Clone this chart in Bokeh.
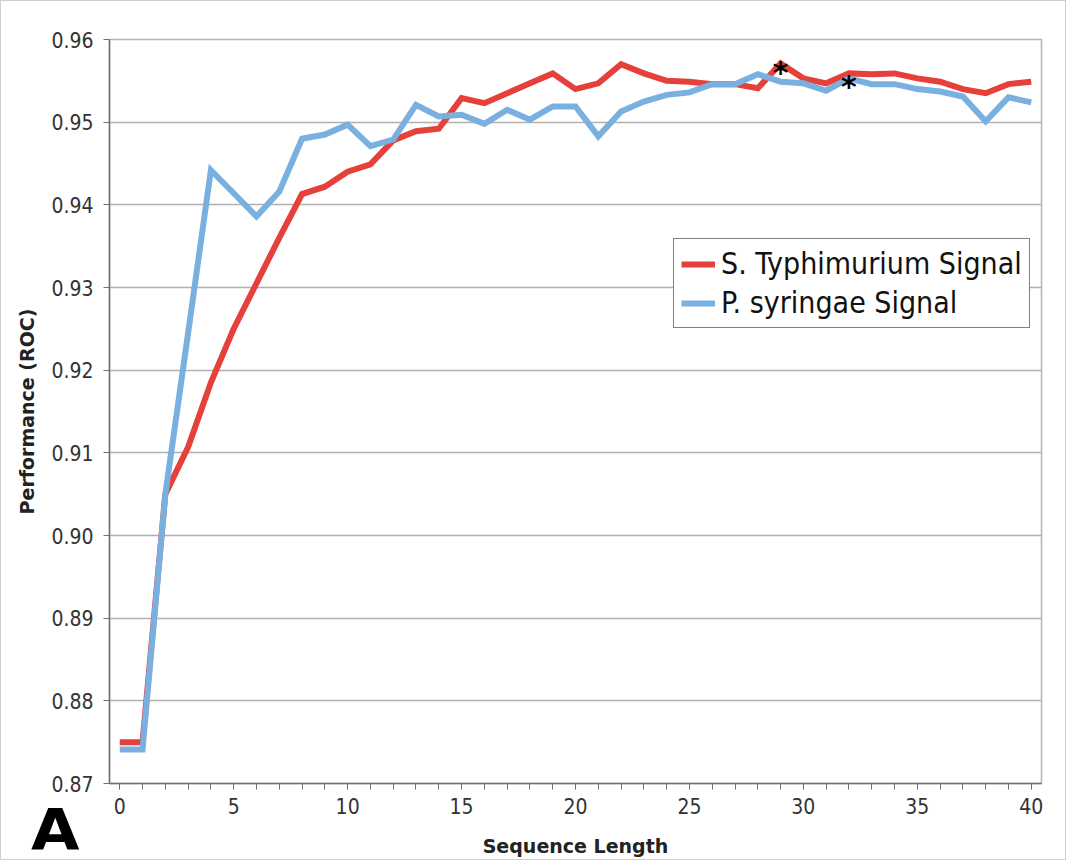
from bokeh.plotting import figure
from bokeh.models import Range1d, FixedTicker, Legend, LegendItem, Div
from bokeh.layouts import column
from bokeh.core.properties import value
from bokeh.embed import file_html
from bokeh.resources import INLINE

seq_len = list(range(41))
typhimurium = [0.875, 0.875, 0.905, 0.9107, 0.9185, 0.925, 0.9305, 0.936, 0.9413, 0.9422,
               0.944, 0.9449, 0.9478, 0.9489, 0.9492, 0.9529, 0.9523, 0.9535, 0.9547, 0.9559,
               0.954, 0.9547, 0.957, 0.9559, 0.955, 0.9549, 0.9546, 0.9546, 0.9541, 0.9571,
               0.9553, 0.9547, 0.9559, 0.9558, 0.9559, 0.9553, 0.9549, 0.954, 0.9535, 0.9546,
               0.9549]
syringae = [0.8741, 0.8741, 0.905, 0.9245, 0.9442, 0.9414, 0.9386, 0.9416, 0.948, 0.9485,
            0.9497, 0.9471, 0.9479, 0.9521, 0.9507, 0.9509, 0.9498, 0.9515, 0.9503, 0.9519,
            0.9519, 0.9483, 0.9513, 0.9525, 0.9533, 0.9536, 0.9546, 0.9546, 0.9558, 0.9549,
            0.9547, 0.9538, 0.9553, 0.9546, 0.9546, 0.954, 0.9537, 0.9531, 0.9501, 0.953,
            0.9524]
star_x = [29, 32]
star_y = [0.957, 0.9553]
x_ticks = [0, 5, 10, 15, 20, 25, 30, 35, 40]
y_ticks = [0.87, 0.88, 0.89, 0.90, 0.91, 0.92, 0.93, 0.94, 0.95, 0.96]
panel_letter = "A"

FONT = "DejaVu Sans"
FONT_C = "DejaVu Sans Condensed"

p = figure(width=1066, height=860, output_backend="svg", toolbar_location=None,
           x_range=Range1d(-0.45, 40.45), y_range=Range1d(0.87, 0.96),
           min_border_left=108, min_border_right=26, min_border_top=38, min_border_bottom=78)
p.styles = {"border": "1px solid #cfcfcf"}
p.outline_line_color = "#b5b5b5"
p.outline_line_width = 1.5
p.background_fill_color = "white"

p.xgrid.visible = False
p.ygrid.grid_line_color = "#b0b0b0"
p.ygrid.grid_line_width = 1.5

p.xaxis.ticker = FixedTicker(ticks=x_ticks, minor_ticks=seq_len)
p.yaxis.ticker = FixedTicker(ticks=y_ticks)
p.yaxis.major_label_overrides = {v: f"{v:.2f}" for v in y_ticks}

for ax in (p.xaxis[0], p.yaxis[0]):
    ax.axis_line_color = "#707070"
    ax.axis_line_width = 1.5
    ax.major_tick_line_color = "#707070"
    ax.minor_tick_line_color = "#707070"
    ax.major_tick_in = 0
    ax.minor_tick_in = 0
    ax.major_tick_out = 6
    ax.minor_tick_out = 6
    ax.major_label_text_font = FONT_C
    ax.major_label_text_font_size = "21px"
    ax.major_label_text_color = "#333333"
    ax.axis_label_text_font = FONT
    ax.axis_label_text_font_style = "bold"
    ax.axis_label_text_font_size = "19px"
    ax.axis_label_text_color = "#222222"
p.yaxis.minor_tick_out = 0
p.xaxis.major_label_standoff = 8
p.yaxis.major_label_standoff = 10
p.xaxis.axis_label = "Sequence Length"
p.yaxis.axis_label = "Performance (ROC)"
p.xaxis.axis_label_standoff = 18
p.yaxis.axis_label_standoff = 10

r1 = p.line(seq_len, typhimurium, line_color="#e5403a", line_width=6, line_join="miter")
r2 = p.line(seq_len, syringae, line_color="#7ab0e0", line_width=6, line_join="miter")

p.text(star_x, star_y, text=["*", "*"], text_font=value(FONT), text_font_style="bold",
       text_font_size="30px", text_align="center", text_baseline="middle",
       y_offset=8, text_color="black")

legend = Legend(items=[LegendItem(label="S. Typhimurium Signal", renderers=[r1]),
                       LegendItem(label="P. syringae Signal", renderers=[r2])],
                location=(564, 455), orientation="vertical",
                label_text_font=FONT_C, label_text_font_size="30px", label_text_color="#111111",
                border_line_color="black", border_line_width=1.2,
                glyph_width=34, glyph_height=30, label_height=30, label_standoff=6, spacing=4,
                padding=7, margin=0, background_fill_alpha=1)
p.add_layout(legend, "center")

letter = Div(text=panel_letter, width=60, height=60,
             styles={"position": "absolute", "left": "26px", "top": "797px",
                     "font-family": "DejaVu Sans", "font-weight": "bold",
                     "font-size": "57px", "line-height": "1", "color": "black",
                     "transform": "scaleX(1.1)", "transform-origin": "left top",
                     "z-index": "10"})

layout = column(p, letter)
open("out.html", "w").write(file_html(layout, INLINE))
